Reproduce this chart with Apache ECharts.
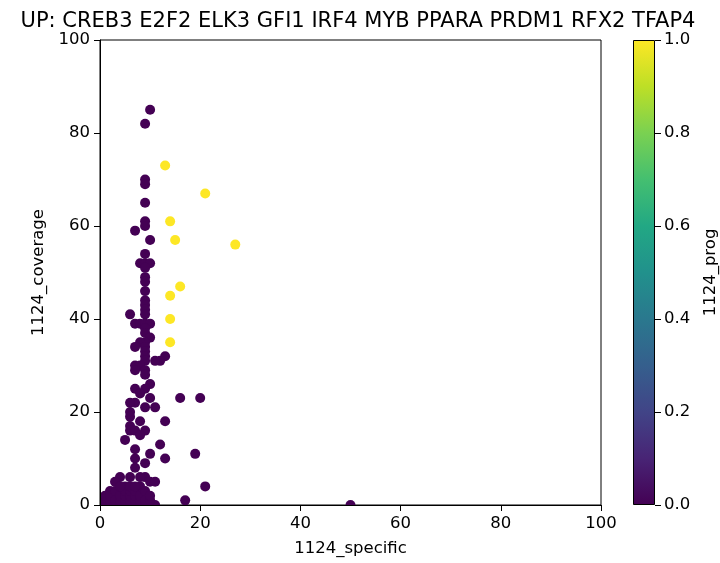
<!DOCTYPE html>
<html>
<head>
<meta charset="utf-8">
<script src="https://cdn.jsdelivr.net/npm/echarts@6/dist/echarts.min.js"></script>
<style>html,body{margin:0;padding:0;background:#fff}#c{width:720px;height:563px}</style>
</head>
<body>
<div id="c"></div>
<script>
const titleText = 'UP: CREB3 E2F2 ELK3 GFI1 IRF4 MYB PPARA PRDM1 RFX2 TFAP4';
const xName = '1124_specific';
const yName = '1124_coverage';
const cName = '1124_prog';
const axisTicks = [0, 20, 40, 60, 80, 100];
const colorbarTicks = [0, 0.2, 0.4, 0.6, 0.8, 1.0];
const viridis = ['#440154','#482475','#414487','#355f8d','#2a788e','#21918c','#22a884','#44bf70','#7ad151','#bddf26','#fde725'];

// points: specific (x), coverage (y), prog (colour)
const xSpecific = [
  10,9,9,9,9,9,9,7,10,9,8,9,10,9,9,9,9,9,9,9,9,6,7,8,9,10,9,9,10,9,8,7,9,9,9,13,12,11,9,7,8,9,7,9,10,9,7,8,10,16,20,7,6,9,11,6,6,8,13,6,6,7,9,8,5,12,7,10,19,7,13,9,7,4,6,9,10,11,3,5,21,2,17,11,50,
  0,0,1,1,1,2,2,2,3,3,3,4,4,4,5,5,5,5,6,6,6,6,6,7,7,7,7,8,8,8,8,9,9,9,10,10,4,7,8,
  13,21,14,15,27,16,14,14,14
];
const yCoverage = [
  85,82,70,69,65,61,60,59,57,54,52,52,52,51,49,48,46,44,43,42,41,41,39,39,39,39,38,37,36,35,35,34,34,33,32,32,31,31,31,30,30,29,29,28,26,25,25,24,23,23,23,22,22,21,21,20,19,18,18,17,16,16,16,15,14,13,12,11,11,10,10,9,8,6,6,6,5,5,5,4,4,3,1,0,0,
  0,1,0,1,2,0,1,2,0,1,3,0,1,2,0,1,2,3,0,1,2,3,4,0,1,2,3,0,1,2,4,0,1,3,1,2,4,4,6,
  73,67,61,57,56,47,45,40,35
];
const prog = [
  0,0,0,0,0,0,0,0,0,0,0,0,0,0,0,0,0,0,0,0,0,0,0,0,0,0,0,0,0,0,0,0,0,0,0,0,0,0,0,0,0,0,0,0,0,0,0,0,0,0,0,0,0,0,0,0,0,0,0,0,0,0,0,0,0,0,0,0,0,0,0,0,0,0,0,0,0,0,0,0,0,0,0,0,0,
  0,0,0,0,0,0,0,0,0,0,0,0,0,0,0,0,0,0,0,0,0,0,0,0,0,0,0,0,0,0,0,0,0,0,0,0,0,0,0,
  1,1,1,1,1,1,1,1,1
];

const pts = xSpecific.map((x, i) => [x, yCoverage[i], prog[i]]);
const FONT = 'DejaVu Sans';
const FS = 16.5;
const gradStops = viridis.map((c, i) => ({offset: i / (viridis.length - 1), color: c}));

const chart = echarts.init(document.getElementById('c'), null, {renderer: 'canvas'});
chart.setOption({
  animation: false,
  backgroundColor: '#fff',
  title: {
    text: titleText, left: 353, textAlign: 'center', top: 6,
    textStyle: {fontFamily: FONT, fontSize: 21, fontWeight: 'normal', color: '#000'}
  },
  grid: [
    {left: 100, top: 40, width: 501, height: 465, show: true, borderColor: '#000', borderWidth: 1, backgroundColor: 'transparent'},
    {left: 633, top: 40, width: 23, height: 465, show: false}
  ],
  xAxis: [
    {
      gridIndex: 0, type: 'value', min: axisTicks[0], max: axisTicks[axisTicks.length - 1], interval: 20,
      name: xName, nameLocation: 'middle', nameGap: 35,
      nameTextStyle: {fontFamily: FONT, fontSize: FS, color: '#000'},
      axisLine: {show: true, lineStyle: {color: '#000', width: 1}},
      axisTick: {show: true, inside: false, length: 6, lineStyle: {color: '#000'}},
      axisLabel: {fontFamily: FONT, fontSize: FS, color: '#000', margin: 10},
      splitLine: {show: false}, z: 10
    },
    {gridIndex: 1, type: 'category', data: ['c'], show: false}
  ],
  yAxis: [
    {
      gridIndex: 0, type: 'value', min: axisTicks[0], max: axisTicks[axisTicks.length - 1], interval: 20,
      name: yName, nameLocation: 'middle', nameGap: 52, nameRotate: 90,
      nameTextStyle: {fontFamily: FONT, fontSize: FS, color: '#000'},
      axisLine: {show: true, lineStyle: {color: '#000', width: 1}},
      axisTick: {show: true, inside: false, length: 6, lineStyle: {color: '#000'}},
      axisLabel: {fontFamily: FONT, fontSize: FS, color: '#000', margin: 10},
      splitLine: {show: false}, z: 10
    },
    {
      gridIndex: 1, type: 'value', position: 'right', min: colorbarTicks[0], max: colorbarTicks[colorbarTicks.length - 1], interval: 0.2,
      name: cName, nameLocation: 'middle', nameGap: 47, nameRotate: 90,
      nameTextStyle: {fontFamily: FONT, fontSize: FS, color: '#000'},
      axisLine: {show: false},
      axisTick: {show: true, inside: false, length: 6, lineStyle: {color: '#000'}},
      axisLabel: {fontFamily: FONT, fontSize: FS, color: '#000', margin: 9, formatter: v => v.toFixed(1)},
      splitLine: {show: false}
    }
  ],
  visualMap: {
    show: false, type: 'continuous', min: 0, max: 1, dimension: 2, seriesIndex: 0,
    inRange: {color: viridis}
  },
  series: [
    {
      type: 'custom', xAxisIndex: 0, yAxisIndex: 0, clip: true,
      data: pts,
      renderItem: function (params, api) {
        const p = api.coord([api.value(0), api.value(1)]);
        return {type: 'circle', shape: {cx: p[0], cy: p[1], r: 5}, style: {fill: api.visual('color')}};
      },
      z: 2
    },
    {
      type: 'bar', xAxisIndex: 1, yAxisIndex: 1, data: [colorbarTicks[colorbarTicks.length - 1]],
      barWidth: '100%',
      itemStyle: {
        color: new echarts.graphic.LinearGradient(0, 1, 0, 0, gradStops),
        borderColor: '#000', borderWidth: 1
      },
      silent: true
    }
  ]
});
</script>
</body>
</html>
